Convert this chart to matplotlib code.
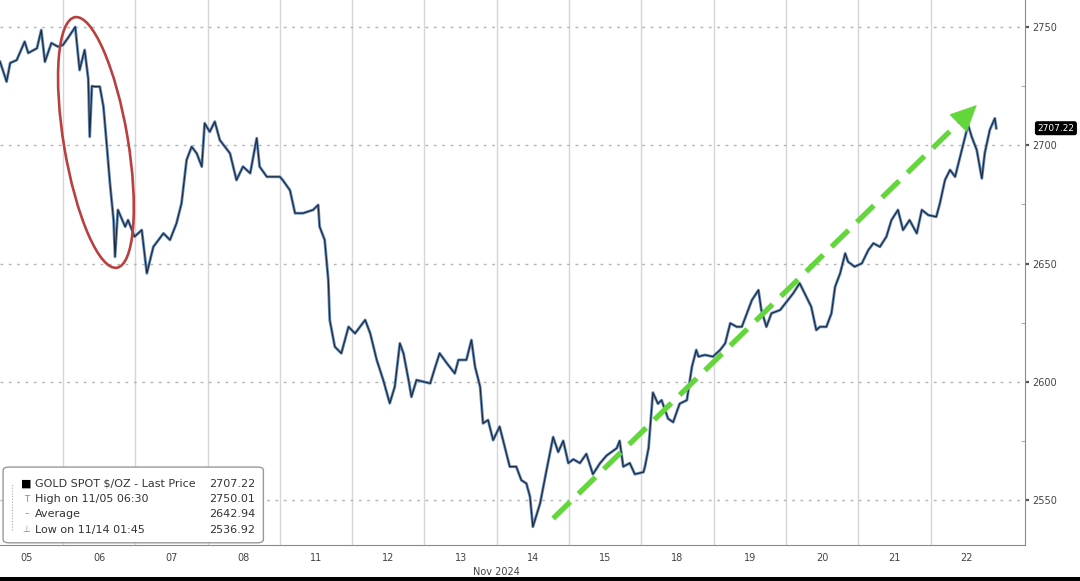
# Gold spot price, Nov 2024 (Bloomberg-style intraday chart)

import matplotlib
matplotlib.use("Agg")
import matplotlib.pyplot as plt
import matplotlib.transforms as mtransforms
from matplotlib.patches import Ellipse, FancyBboxPatch, Rectangle

# trading days on the x axis, each day takes one unit
day_labels = ["05", "06", "07", "08", "11", "12", "13", "14", "15", "18", "19", "20", "21", "22"]

# time (in trading-day units) and price
t = [0.13, 0.22, 0.27, 0.36, 0.47, 0.52, 0.64, 0.70, 0.75, 0.84, 0.93, 1.00, 1.07, 1.17,
     1.23, 1.30, 1.35, 1.37, 1.40, 1.44, 1.51, 1.56, 1.60, 1.65, 1.70, 1.72, 1.76, 1.86,
     1.90, 1.99, 2.09, 2.16, 2.25, 2.39, 2.48, 2.57, 2.64, 2.71, 2.78, 2.85, 2.92, 2.96,
     3.03, 3.10, 3.17, 3.31, 3.40, 3.49, 3.59, 3.68, 3.72, 3.82, 4.00, 4.04, 4.14, 4.21,
     4.32, 4.46, 4.53, 4.55, 4.62, 4.67, 4.69, 4.76, 4.85, 4.95, 5.04, 5.18, 5.25, 5.34,
     5.43, 5.52, 5.59, 5.66, 5.71, 5.78, 5.82, 5.89, 6.08, 6.15, 6.21, 6.31, 6.42, 6.47,
     6.58, 6.65, 6.70, 6.77, 6.81, 6.88, 6.95, 7.04, 7.11, 7.18, 7.27, 7.34, 7.41, 7.46,
     7.50, 7.60, 7.69, 7.78, 7.85, 7.92, 7.99, 8.06, 8.15, 8.24, 8.33, 8.43, 8.52, 8.66,
     8.70, 8.75, 8.84, 8.91, 9.03, 9.05, 9.10, 9.16, 9.23, 9.28, 9.37, 9.44, 9.53, 9.63,
     9.70, 9.76, 9.79, 9.88, 9.99, 10.09, 10.16, 10.23, 10.32, 10.39, 10.46, 10.53, 10.62,
     10.66, 10.73, 10.80, 10.92, 11.01, 11.10, 11.19, 11.26, 11.35, 11.42, 11.47, 11.56,
     11.63, 11.68, 11.75, 11.82, 11.86, 11.95, 12.05, 12.14, 12.21, 12.30, 12.39, 12.46,
     12.55, 12.62, 12.71, 12.81, 12.88, 12.97, 13.08, 13.13, 13.20, 13.27, 13.34, 13.41,
     13.48, 13.52, 13.57, 13.64, 13.71, 13.75, 13.82, 13.89, 13.91]
price = [2735.3, 2726.9, 2734.8, 2736.0, 2743.8, 2739.0, 2741.0, 2748.7, 2735.3, 2743.2, 2741.7, 2742.4, 2745.4, 2750.0,
         2731.8, 2740.3, 2728.0, 2703.6, 2725.0, 2724.8, 2724.8, 2716.3, 2702.2, 2683.9, 2668.4, 2652.9, 2672.7, 2665.6,
         2668.4, 2661.4, 2664.2, 2645.9, 2657.1, 2662.8, 2660.0, 2667.0, 2675.5, 2693.8, 2699.4, 2696.6, 2691.0, 2709.3,
         2705.7, 2710.0, 2702.2, 2696.6, 2685.3, 2691.0, 2688.2, 2703.0, 2691.0, 2686.7, 2686.7, 2685.3, 2681.0, 2671.3,
         2671.3, 2672.7, 2674.8, 2665.6, 2660.0, 2643.1, 2626.2, 2614.9, 2612.1, 2623.3, 2620.5, 2626.2, 2620.5, 2609.3,
         2600.8, 2591.0, 2598.0, 2616.3, 2612.1, 2600.8, 2593.7, 2600.8, 2599.4, 2606.4, 2612.1, 2607.9, 2603.6, 2609.3,
         2609.3, 2617.7, 2606.4, 2598.0, 2582.5, 2583.9, 2575.4, 2581.1, 2572.6, 2564.2, 2564.2, 2558.5, 2557.1, 2551.5,
         2538.8, 2548.7, 2562.9, 2576.7, 2570.4, 2575.1, 2565.7, 2567.3, 2565.7, 2569.6, 2561.0, 2565.7, 2568.9, 2572.0,
         2575.1, 2564.2, 2565.7, 2561.0, 2561.9, 2564.2, 2572.0, 2595.5, 2590.8, 2592.3, 2584.5, 2583.0, 2590.8, 2592.3,
         2606.4, 2613.5, 2610.7, 2611.4, 2610.7, 2613.5, 2616.3, 2624.8, 2623.3, 2623.3, 2629.0, 2634.6, 2638.8,
         2630.4, 2623.3, 2629.0, 2630.4, 2633.9, 2637.4, 2641.7, 2637.4, 2631.8, 2621.9, 2623.3, 2623.3,
         2629.0, 2640.2, 2645.9, 2654.3, 2650.8, 2648.7, 2650.1, 2655.7, 2658.6, 2657.1, 2661.4, 2668.4,
         2672.7, 2664.2, 2668.4, 2662.8, 2672.7, 2670.5, 2669.8, 2675.5, 2685.3, 2689.6, 2686.7, 2695.2,
         2703.6, 2708.6, 2703.6, 2698.0, 2686.0, 2696.6, 2706.5, 2711.4, 2707.2]

last_price = 2707.22
legend_rows = [("GOLD SPOT $/OZ - Last Price", "2707.22"),
               ("High on 11/05 06:30", "2750.01"),
               ("Average", "2642.94"),
               ("Low on 11/14 01:45", "2536.92")]
legend_marks = ["■", "T", "–", "⊥"]

# annotations
ellipse_center = (1.456, 2701.2)
arrow_start = (7.78, 2542.3)
arrow_end = (13.64, 2717.0)

plt.rcParams["font.family"] = ["DejaVu Sans"]

fig = plt.figure(figsize=(10.8, 5.81), dpi=100)
ax = fig.add_axes([0.0, 0.062, 0.949, 0.938])

ax.plot(t, price, color="#6d93c0", linewidth=2.1, solid_joinstyle="round")
ax.plot(t, price, color="#1d2c42", linewidth=0.9, solid_joinstyle="round")

ax.set_xlim(0.129, 14.306)
ax.set_ylim(2531.1, 2761.4)

# x axis: day labels in the middle, gridlines on day boundaries
ax.set_xticks([i + 0.5 for i in range(len(day_labels))])
ax.set_xticklabels(day_labels)
ax.set_xticks(range(1, len(day_labels)), minor=True)
ax.tick_params(axis="x", which="both", length=0, labelsize=7, colors="#444444", pad=6)
ax.grid(axis="x", which="minor", color="#d6d6d6", linewidth=1.0)

# y axis on the right
ax.yaxis.tick_right()
ax.set_yticks([2550, 2600, 2650, 2700, 2750])
ax.set_yticks([2575, 2625, 2675, 2725], minor=True)
ax.tick_params(axis="y", which="major", direction="out", length=3, width=1.6,
               color="#555555", labelsize=7, labelcolor="#444444", pad=2)
ax.tick_params(axis="y", which="minor", direction="in", length=3, width=0.8, color="#aaaaaa")
ax.grid(axis="y", which="major", color="#b5b5b5", linewidth=1.0, linestyle=(0, (2, 4)))
ax.set_axisbelow(True)

for side in ["left", "top"]:
    ax.spines[side].set_visible(False)
ax.spines["right"].set_color("#8a8a8a")
ax.spines["bottom"].set_color("#8a8a8a")

ax.text(7.0, -0.05, "Nov 2024", transform=ax.get_xaxis_transform(),
        ha="center", va="center", fontsize=7, color="#444444")

# last price tag
ax.annotate(f"{last_price:.2f}", xy=(1.0, last_price), xycoords=ax.get_yaxis_transform(),
            xytext=(9, 0), textcoords="offset points", ha="left", va="center",
            fontsize=6.5, color="white", annotation_clip=False,
            bbox=dict(boxstyle="round,pad=0.2", fc="black", ec="black"))

# legend box
ax.add_patch(FancyBboxPatch((0.003, 0.004), 0.254, 0.139, transform=ax.transAxes,
                            boxstyle="round,pad=0,rounding_size=0.006",
                            facecolor="white", edgecolor="#999999", linewidth=1.0, zorder=5))
row_y = [0.112, 0.084, 0.057, 0.0275]
for (label, value), mark, y in zip(legend_rows, legend_marks, row_y):
    ax.text(0.026, y, mark, transform=ax.transAxes, ha="center", va="center",
            fontsize=8 if mark == "■" else 6.5, color="black" if mark == "■" else "#888888", zorder=6)
    ax.text(0.034, y, label, transform=ax.transAxes, ha="left", va="center",
            fontsize=8, color="#333333", zorder=6)
    ax.text(0.249, y, value, transform=ax.transAxes, ha="right", va="center",
            fontsize=8, color="#333333", zorder=6)
ax.plot([0.012, 0.012], [row_y[-1], row_y[0]], transform=ax.transAxes,
        color="#aaaaaa", linewidth=0.8, linestyle=(0, (1, 1.5)), zorder=6)

# red ellipse around the election-day drop (fixed pixel size, placed at a data point)
ell_tr = fig.dpi_scale_trans + mtransforms.ScaledTranslation(ellipse_center[0], ellipse_center[1], ax.transData)
ax.add_patch(Ellipse((0, 0), 0.64, 2.54, angle=9.5, transform=ell_tr,
                     fill=False, edgecolor="#b8403e", linewidth=1.9, zorder=4))

# green dashed trend arrow
green = "#62d63a"
frac = 0.955
mid = (arrow_start[0] + frac * (arrow_end[0] - arrow_start[0]),
       arrow_start[1] + frac * (arrow_end[1] - arrow_start[1]))
ax.plot([arrow_start[0], mid[0]], [arrow_start[1], mid[1]], color=green,
        linewidth=3.8, linestyle=(0, (4.5, 2.2)), solid_capstyle="butt", zorder=4)
ax.annotate("", xy=arrow_end, xytext=mid,
            arrowprops=dict(arrowstyle="-|>,head_length=1.8,head_width=0.85",
                            color=green, linewidth=0.5, shrinkA=0, shrinkB=0), zorder=4)

# black strip along the very bottom of the screenshot
fig.patches.append(Rectangle((0, 0), 1, 4 / 581, transform=fig.transFigure,
                             facecolor="black", edgecolor="none"))

fig.savefig("out.png", dpi=100)
